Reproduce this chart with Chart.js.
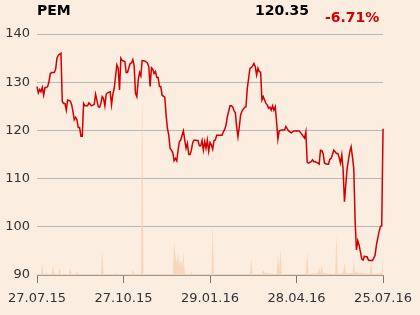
<!DOCTYPE html>
<html><head><meta charset="utf-8">
<script src="https://cdn.jsdelivr.net/npm/chart.js@4/dist/chart.umd.min.js"></script>
<style>
html,body{margin:0;padding:0;background:#fcede1;}
#wrap{position:relative;width:420px;height:315px;background:#fcede1;font-family:"DejaVu Sans",sans-serif;}
canvas{position:absolute;left:0;top:0;}
.t{position:absolute;font-weight:bold;font-size:14px;line-height:14px;white-space:nowrap;}
</style></head><body>
<div id="wrap">
<canvas id="c" width="420" height="315"></canvas>
<div class="t" style="left:37px;top:3px;color:#000">PEM</div>
<div class="t" style="left:255px;top:3px;color:#000">120.35</div>
<div class="t" style="left:325px;top:10px;color:#d40000">-6.71%</div>
</div>
<script>
const title = "PEM";
const tickIdx = [0, 65, 130, 195, 260];
const tickLabels = ["27.07.15", "27.10.15", "29.01.16", "28.04.16", "25.07.16"];
const priceIdx = [0,1,2,3,4,5,6,7,8,9,10,11,13,14,15,16,18,19,20,21,22,23,25,26,27,28,29,30,31,32,33,34,35,36,38,39,41,43,44,45,46,47,48,49,50,51,52,53,55,56,57,58,60,61,62,63,64,66,67,68,70,71,72,73,74,75,76,77,78,79,81,83,84,85,86,87,88,89,90,91,92,93,94,96,97,98,99,100,101,102,103,104,105,106,107,108,109,110,111,112,113,114,115,116,117,118,120,121,122,123,124,125,126,127,128,129,130,131,132,133,134,135,137,139,140,141,142,143,145,146,147,148,149,150,151,152,153,154,156,157,158,160,161,162,163,164,165,166,167,168,169,170,172,173,174,175,176,177,178,179,180,181,182,184,186,187,188,189,191,193,196,197,199,201,202,203,204,206,207,208,209,211,212,213,214,215,216,218,219,220,221,222,223,225,226,227,228,229,230,231,232,233,234,235,236,237,238,239,240,241,242,243,244,245,246,247,248,249,250,252,253,254,255,256,257,258,259,260];
const prices = [129.1,127.8,128.5,128.0,128.9,127.3,128.9,128.9,129.1,130.1,131.8,132.0,132.0,132.7,135.0,135.6,136.0,126.0,125.6,125.6,124.2,126.3,126.1,125.4,123.9,122.2,122.7,122.2,120.6,120.6,118.8,118.8,125.6,125.1,125.1,125.7,125.1,125.4,127.5,126.3,124.9,124.8,125.6,127.0,126.6,125.1,127.5,127.8,128.0,125.3,127.5,128.7,133.6,132.9,128.4,135.0,134.5,134.3,132.0,132.0,133.9,134.0,134.7,133.4,127.7,127.0,130.3,132.0,131.3,134.5,134.4,134.0,133.2,129.1,133.0,132.7,131.8,132.2,131.0,131.0,129.1,129.1,127.3,126.9,123.2,120.4,119.0,116.3,115.9,115.4,113.7,114.2,113.7,115.9,117.7,118.0,119.0,119.9,118.0,116.3,117.3,115.0,115.0,115.9,117.5,118.0,117.9,117.9,116.8,116.8,117.9,115.9,117.7,116.3,118.0,115.7,117.5,117.0,116.1,117.9,118.0,119.0,119.0,119.0,119.7,120.2,121.1,122.8,125.1,125.1,124.9,124.1,123.7,120.8,118.7,120.8,123.2,124.0,124.8,124.9,128.7,132.9,133.0,133.4,133.9,133.2,131.5,132.9,132.2,132.1,126.3,127.0,125.6,125.3,124.6,124.8,124.2,125.1,124.2,124.9,121.8,118.2,119.9,120.1,120.1,120.8,120.3,119.9,119.5,119.9,119.9,119.9,119.2,118.4,119.7,113.4,113.2,113.5,113.9,113.5,113.5,113.2,113.0,115.9,115.8,115.2,113.2,113.0,113.0,114.0,114.2,115.0,115.9,115.2,115.2,114.4,113.2,114.9,111.8,105.2,108.7,112.1,113.9,115.6,116.6,114.5,112.1,101.4,95.2,97.1,96.2,94.8,93.3,93.1,93.9,93.8,93.8,93.1,93.0,93.0,93.5,94.1,96.2,97.6,99.0,100.0,100.3,120.35];
const volIdx = [0,3,4,5,6,7,8,11,12,13,14,16,17,18,24,25,26,29,30,31,48,49,50,59,60,61,71,72,73,78,79,80,102,103,104,105,106,107,108,109,110,111,112,115,116,117,131,132,133,160,161,162,169,170,171,180,181,182,183,184,202,203,204,211,212,213,214,215,224,225,226,230,231,232,237,238,239,250,251,252,259,260];
const volumes = [1,1,11,1,1,3,1,1,9,2,1,1,8,1,1,7,1,1,3,1,1,24,1,1,2,1,1,5,1,1,195,1,1,33,20,12,22,10,15,8,23,3,1,1,3,1,1,50,1,1,17,1,1,5,2,1,20,8,25,1,1,24,1,2,8,3,10,2,1,41,1,2,13,2,2,15,3,1,16,1,2,18];

const priceData = priceIdx.map((x,i)=>({x:x,y:prices[i]}));
const volData = volIdx.map((x,i)=>({x:x,y:volumes[i]}));
const font = {family:"DejaVu Sans", size:13};

new Chart(document.getElementById('c'), {
  type:'line',
  data:{datasets:[
    {data:priceData, borderColor:'#d00000', borderWidth:1.5, pointRadius:0, tension:0, fill:false, yAxisID:'y', order:0, clip:4},
    {data:volData, borderWidth:0, borderColor:'rgba(0,0,0,0)', backgroundColor:'rgba(247,208,176,0.75)', pointRadius:0, tension:0, fill:'origin', yAxisID:'yv', order:1}
  ]},
  options:{
    responsive:false, animation:false,
    layout:{padding:{top:34,right:33,left:0,bottom:0}},
    plugins:{legend:{display:false}, tooltip:{enabled:false}},
    scales:{
      x:{type:'linear', min:0, max:260,
        afterBuildTicks:(s)=>{s.ticks = tickIdx.map(v=>({value:v}));},
        afterFit:(s)=>{s.height=40;},
        ticks:{font:font, color:'#333', padding:8, maxRotation:0, autoSkip:false,
          callback:(v)=>{const k=tickIdx.indexOf(v); return k>=0?tickLabels[k]:'';}},
        grid:{drawOnChartArea:false, drawTicks:true, tickLength:8, color:'#777'},
        border:{color:'#999', width:1}
      },
      y:{min:90, max:140,
        afterFit:(s)=>{s.width=37;},
        ticks:{stepSize:10, font:font, color:'#333', padding:7},
        grid:{color:'#b8b8b8', drawTicks:false},
        border:{display:false}
      },
      yv:{min:0, max:241, display:false}
    }
  }
});
</script>
</body></html>
